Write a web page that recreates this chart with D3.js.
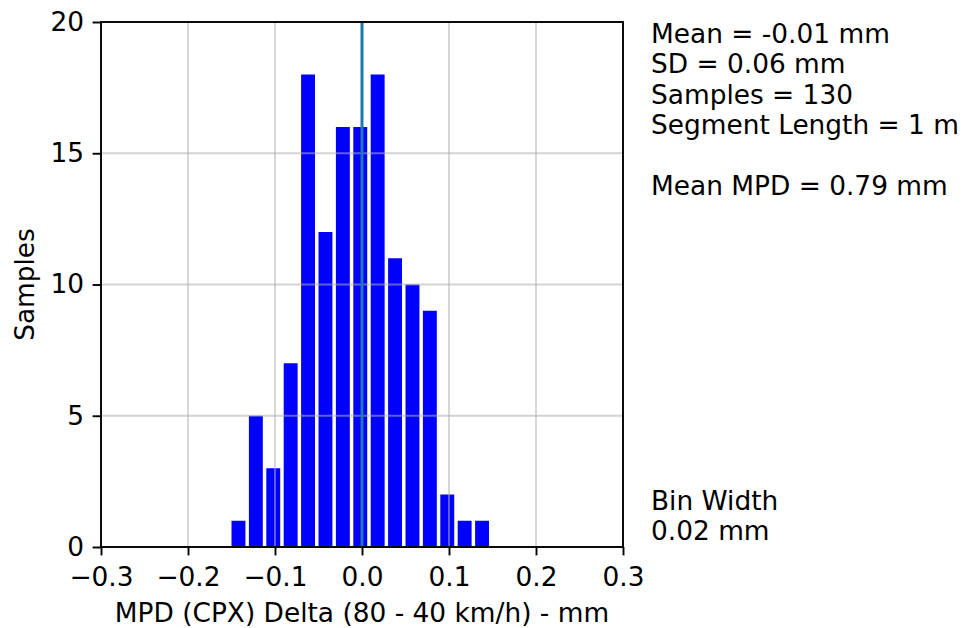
<!DOCTYPE html>
<html>
<head>
<meta charset="utf-8">
<script src="https://cdn.jsdelivr.net/npm/d3@7"></script>
<style>
  html, body { margin: 0; padding: 0; background: #fff; }
  svg { display: block; font-family: "DejaVu Sans", sans-serif; }
</style>
</head>
<body>
<svg id="chart" width="967" height="628"></svg>
<script>
// ---- data ----
const binEdges = [-0.152, -0.132, -0.112, -0.092, -0.072, -0.052, -0.032, -0.012,
                  0.008, 0.028, 0.048, 0.068, 0.088, 0.108, 0.128, 0.148];
const counts = [1, 5, 3, 7, 18, 12, 16, 16, 18, 11, 10, 9, 2, 1, 1];
const xTicks = [-0.3, -0.2, -0.1, 0.0, 0.1, 0.2, 0.3];
const yTicks = [0, 5, 10, 15, 20];
const meanLineX = [0.0];
const statsLines = ["Mean = -0.01 mm", "SD = 0.06 mm", "Samples = 130", "Segment Length = 1 m", "", "Mean MPD = 0.79 mm"];
const binLines = ["Bin Width", "0.02 mm"];
const xLabel = "MPD (CPX) Delta (80 - 40 km/h) - mm";
const yLabel = "Samples";
const rwidth = 0.8;

// ---- layout ----
const svg = d3.select("#chart");
const L = 101, R = 623, T = 22, B = 547;
const x = d3.scaleLinear().domain([-0.3, 0.3]).range([L, R]);
const y = d3.scaleLinear().domain([0, 20]).range([B, T]);
const lw = 1.9;
const fs = 26.4;

const bars = counts.map((c, i) => ({x0: binEdges[i], x1: binEdges[i + 1], c}));

// bars
svg.append("g").selectAll("rect").data(bars).join("rect")
  .attr("x", d => {
    const w = x(d.x1) - x(d.x0);
    return x(d.x0) + w * (1 - rwidth) / 2;
  })
  .attr("width", d => (x(d.x1) - x(d.x0)) * rwidth)
  .attr("y", d => y(d.c))
  .attr("height", d => y(0) - y(d.c))
  .attr("fill", "#0000ff");

// grid (above bars, like matplotlib default)
const grid = svg.append("g").attr("stroke", "#b0b0b0").attr("stroke-opacity", 0.55).attr("stroke-width", lw);
grid.selectAll("line.gx").data(xTicks).join("line").attr("class", "gx")
  .attr("x1", d => x(d)).attr("x2", d => x(d)).attr("y1", T).attr("y2", B);
grid.selectAll("line.gy").data(yTicks).join("line").attr("class", "gy")
  .attr("y1", d => y(d)).attr("y2", d => y(d)).attr("x1", L).attr("x2", R);

// vertical mean line
svg.append("g").selectAll("line").data(meanLineX).join("line")
  .attr("x1", d => x(d)).attr("x2", d => x(d)).attr("y1", T).attr("y2", B)
  .attr("stroke", "#1f77b4").attr("stroke-width", 3);

// axes
const fmtX = d => (d < 0 ? "\u2212" : "") + Math.abs(d).toFixed(1);
const xAxis = d3.axisBottom(x).tickValues(xTicks).tickFormat(fmtX).tickSize(8.4);
const yAxis = d3.axisLeft(y).tickValues(yTicks).tickFormat(d3.format("d")).tickSize(8.4).tickPadding(8.5);

const gx = svg.append("g").attr("transform", `translate(0,${B})`).call(xAxis);
const gy = svg.append("g").attr("transform", `translate(${L},0)`).call(yAxis);
[gx, gy].forEach(g => {
  g.select(".domain").remove();
  g.selectAll(".tick line").attr("stroke", "#000").attr("stroke-width", lw);
  g.selectAll(".tick text").attr("fill", "#000").attr("font-size", fs).attr("font-family", "DejaVu Sans");
});
gx.selectAll(".tick text").attr("y", 39).attr("dy", 0);

// frame
svg.append("rect").attr("x", L).attr("y", T).attr("width", R - L).attr("height", B - T)
  .attr("fill", "none").attr("stroke", "#000").attr("stroke-width", lw);

// axis labels
svg.append("text").attr("x", (L + R) / 2).attr("y", 622).attr("text-anchor", "middle")
  .attr("font-size", fs).text(xLabel);
svg.append("text").attr("transform", `translate(33.5,${(T + B) / 2}) rotate(-90)`)
  .attr("text-anchor", "middle").attr("font-size", fs).text(yLabel);

// annotations
svg.append("g").selectAll("text").data(statsLines).join("text")
  .attr("x", 651).attr("y", (d, i) => 43 + i * 30.4)
  .attr("font-size", fs).text(d => d);
svg.append("g").selectAll("text").data(binLines).join("text")
  .attr("x", 651).attr("y", (d, i) => 510 + i * 30.2)
  .attr("font-size", fs).text(d => d);
</script>
</body>
</html>
